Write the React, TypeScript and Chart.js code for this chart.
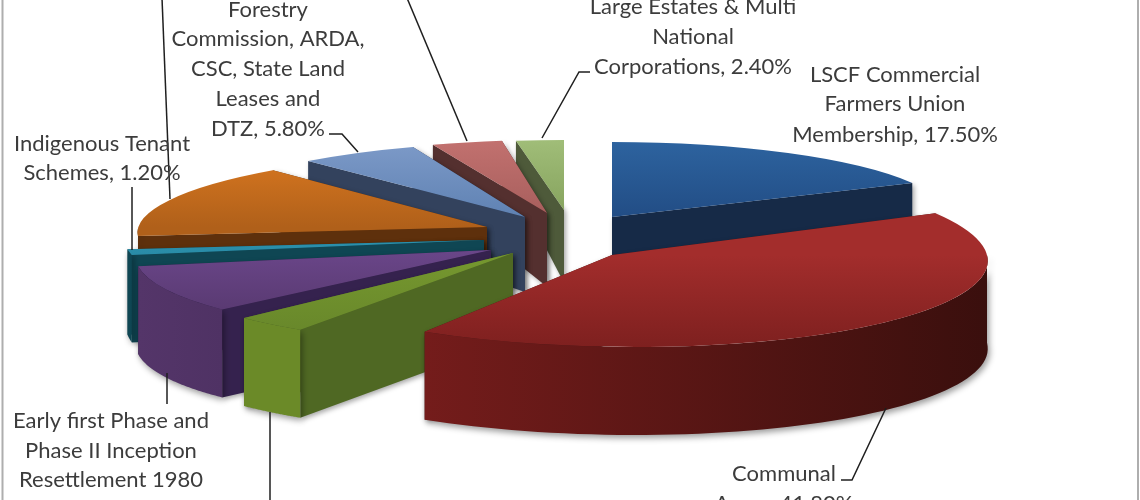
import React, { useEffect, useRef } from "react";
import { Chart, registerables } from "chart.js";

Chart.register(...registerables);

// ---- data (three category names are cropped out of the reference)
const categories = [
  "LSCF Commercial Farmers Union Membership",
  "Communal Areas",
  "Label cropped in reference (green)",
  "Early first Phase and Phase II Inception Resettlement 1980",
  "Indigenous Tenant Schemes",
  "Label cropped in reference (orange)",
  "Forestry Commission, ARDA, CSC, State Land Leases and DTZ",
  "Label cropped in reference (pink)",
  "Large Estates & Multi National Corporations",
];
const shares = [17.5, 41.8, 3.2, 9.4, 1.2, 15.3, 5.8, 3.4, 2.4];

// ---- styles
const topColors = [
  ["#2d639f", "#224d85", "#224d85"],
  ["#a32d2c", "#a32d2c", "#7e201f"],
  ["#76982f", "#76982f", "#66852a"],
  ["#6a4689", "#6a4689", "#533569"],
  ["#2b90ac", "#2b90ac", "#227a92"],
  ["#d97820", "#b0601a", "#b0601a"],
  ["#7d9ac8", "#5f82b3", "#5f82b3"],
  ["#c2716f", "#a85f5d", "#a85f5d"],
  ["#a0bd78", "#87a45f", "#87a45f"],
];
const cutWallColors = ["#162a47", "#4a1413", "#4f6823", "#35224e", "#0f4653", "#5e300c", "#33425d", "#54302f", "#4e5a3a"];
const outerWallColors = [
  ["#162a47", "#162a47"],
  ["#741c1b", "#3a0f0d"],
  ["#6b8a28", "#6b8a28"],
  ["#543569", "#4f3264"],
  ["#0f4653", "#0f4653"],
  ["#5e300c", "#5e300c"],
  ["#33425d", "#33425d"],
  ["#54302f", "#54302f"],
  ["#4e5a3a", "#4e5a3a"],
];
// painter's order, back to front
const drawOrder = [0, 8, 7, 6, 5, 4, 3, 2, 1];

// ---- 3D view of each exploded slice: pivot, radii and perspective shear
const pivotX = [612, 612, 513, 491, 484, 487, 525, 547, 564];
const pivotY = [217, 255, 253, 250, 240, 227, 217, 213, 210];
const radiusX = [337, 375, 370, 354.5, 359, 348.6, 334, 333.6, 320];
const radiusY = [75, 92, 92, 84, 77, 76, 75, 73, 70];
const shear = [0, -0.255, 0.113, 0.306, 0, 0.318, 0.1, 0.07, 0];
const depthAt = (y: number) => Math.min(88, 50 + (y - 141) * 0.33);

// ---- text
const labelFont = '22px Lato, "Open Sans", sans-serif';
const labelBlocks = [
  { x: 268, ys: [10, 39, 69, 99, 129], lines: ["Forestry", "Commission, ARDA,", "CSC, State Land", "Leases and", "DTZ, 5.80%"] },
  { x: 102, ys: [144, 173], lines: ["Indigenous Tenant", "Schemes, 1.20%"] },
  { x: 693, ys: [7, 37, 67], lines: ["Large Estates & Multi", "National", "Corporations, 2.40%"] },
  { x: 895, ys: [75, 104, 135], lines: ["LSCF Commercial", "Farmers Union", "Membership, 17.50%"] },
  { x: 111, ys: [421, 451, 480], lines: ["Early first Phase and", "Phase II Inception", "Resettlement 1980"] },
  { x: 784, ys: [474, 504], lines: ["Communal", "Areas, 41.80%"] },
];
const leaderLines = [
  [[162, -2], [170, 199]],
  [[407, -2], [467, 141]],
  [[329, 134], [342, 134], [358, 152]],
  [[590, 72], [579, 72], [542, 138]],
  [[132, 187], [132, 250]],
  [[167, 373], [167, 404]],
  [[270, 412], [270, 502]],
  [[886, 408], [852, 480], [841, 480]],
];

const pie3dPlugin = {
  id: "pie3d",
  beforeDatasetsDraw(chart: any) {
    const ctx = chart.ctx as CanvasRenderingContext2D;
    const arcs = chart.getDatasetMeta(0).data as any[];

    // frame
    ctx.save();
    ctx.fillStyle = "#ffffff";
    ctx.fillRect(0, 0, chart.width, chart.height);
    ctx.strokeStyle = "#aeaeae";
    ctx.lineWidth = 2;
    ctx.beginPath();
    ctx.moveTo(2.5, 0);
    ctx.lineTo(2.5, chart.height);
    ctx.moveTo(1138, 0);
    ctx.lineTo(1138, chart.height);
    ctx.stroke();
    ctx.restore();

    for (const i of drawOrder) {
      const arc = arcs[i];
      const a0 = arc.startAngle + Math.PI / 2;
      const a1 = arc.endAngle + Math.PI / 2;
      const mid = (a0 + a1) / 2;
      const rx = radiusX[i];
      const ry = radiusY[i];
      const ax = pivotX[i];
      const ay = pivotY[i];
      const s = shear[i];
      const rim = (a: number) => {
        const dy = -Math.cos(a) * ry;
        return [ax + Math.sin(a) * rx - s * dy, ay + dy];
      };

      const quad = (p: number[], q: number[], fill: any) => {
        ctx.save();
        ctx.shadowColor = "rgba(0,0,0,0.35)";
        ctx.shadowBlur = 5;
        ctx.shadowOffsetX = 2;
        ctx.shadowOffsetY = 2;
        ctx.fillStyle = fill;
        ctx.beginPath();
        ctx.moveTo(p[0], p[1]);
        ctx.lineTo(q[0], q[1]);
        ctx.lineTo(q[0], q[1] + depthAt(q[1]));
        ctx.lineTo(p[0], p[1] + depthAt(p[1]));
        ctx.closePath();
        ctx.fill();
        ctx.restore();
      };

      const apex = [ax, ay];
      const walls = mid > Math.PI ? [rim(a1), rim(a0)] : [rim(a0), rim(a1)];
      quad(apex, walls[0], cutWallColors[i]);
      quad(apex, walls[1], cutWallColors[i]);

      // outer wall, only where the rim faces the viewer
      const w0 = Math.max(a0, Math.PI / 2);
      const w1 = Math.min(a1, (3 * Math.PI) / 2);
      if (w1 > w0) {
        const n = 60;
        const pts: number[][] = [];
        for (let k = 0; k <= n; k++) pts.push(rim(w0 + ((w1 - w0) * k) / n));
        const xs = pts.map((p) => p[0]);
        const g = ctx.createLinearGradient(Math.min(...xs), 0, Math.max(...xs), 0);
        g.addColorStop(0, outerWallColors[i][0]);
        g.addColorStop(1, outerWallColors[i][1]);
        ctx.save();
        ctx.shadowColor = "rgba(0,0,0,0.4)";
        ctx.shadowBlur = 6;
        ctx.shadowOffsetX = 2;
        ctx.shadowOffsetY = 3;
        ctx.fillStyle = g;
        ctx.beginPath();
        pts.forEach((p, k) => (k ? ctx.lineTo(p[0], p[1]) : ctx.moveTo(p[0], p[1])));
        for (let k = n; k >= 0; k--) ctx.lineTo(pts[k][0], pts[k][1] + depthAt(pts[k][1]));
        ctx.closePath();
        ctx.fill();
        ctx.restore();
      }

      // top face: the library's own arc, seen through the view transform
      const R = arc.outerRadius;
      ctx.save();
      ctx.transform(rx / R, 0, (-s * ry) / R, ry / R, ax, ay);
      ctx.translate(-arc.x, -arc.y);
      arc.draw(ctx);
      ctx.restore();
    }

    // leader lines
    ctx.save();
    ctx.strokeStyle = "#1f1f1f";
    ctx.lineWidth = 1.5;
    for (const line of leaderLines) {
      ctx.beginPath();
      line.forEach((p, k) => (k ? ctx.lineTo(p[0], p[1]) : ctx.moveTo(p[0], p[1])));
      ctx.stroke();
    }
    ctx.restore();

    // labels
    ctx.save();
    ctx.font = labelFont;
    ctx.fillStyle = "#3c3c3c";
    ctx.textAlign = "center";
    ctx.textBaseline = "middle";
    for (const b of labelBlocks) {
      b.lines.forEach((t, k) => ctx.fillText(t, b.x, b.ys[k]));
    }
    ctx.restore();
    return false;
  },
};

export default function App() {
  const ref = useRef<HTMLCanvasElement | null>(null);
  useEffect(() => {
    const canvas = ref.current!;
    const chart = new Chart(canvas, {
      type: "pie",
      data: {
        labels: categories,
        datasets: [
          {
            data: shares,
            borderWidth: 0,
            backgroundColor: (c: any) => {
              const area = c.chart.chartArea;
              if (!area) return topColors[c.dataIndex][0];
              const g = c.chart.ctx.createLinearGradient(0, area.top, 0, area.bottom);
              const [a, b, d] = topColors[c.dataIndex];
              g.addColorStop(0, a);
              g.addColorStop(0.5, b);
              g.addColorStop(1, d);
              return g;
            },
          },
        ],
      },
      options: {
        responsive: false,
        animation: false,
        layout: { padding: 0 },
        plugins: { legend: { display: false }, tooltip: { enabled: false } },
      },
      plugins: [pie3dPlugin],
    } as any);
    return () => chart.destroy();
  }, []);
  return (
    <div style={{ position: "absolute", left: 0, top: 0, width: 1140, height: 500, overflow: "hidden", background: "#fff" }}>
      <canvas ref={ref} width={1140} height={500} style={{ display: "block", filter: "blur(0.5px)" }} />
    </div>
  );
}
